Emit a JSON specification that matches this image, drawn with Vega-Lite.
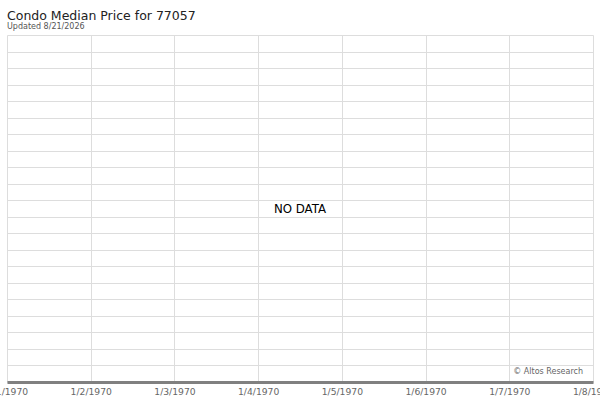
{
  "$schema": "https://vega.github.io/schema/vega-lite/v6.json",
  "autosize": "none",
  "width": 586,
  "height": 347,
  "padding": {"left": 7, "top": 35, "right": 7, "bottom": 18},
  "background": "white",
  "title": {
    "text": "Condo Median Price for 77057",
    "subtitle": "Updated 8/21/2026",
    "anchor": "start",
    "frame": "group",
    "font": "DejaVu Sans",
    "fontSize": 12.5,
    "fontWeight": "normal",
    "color": "#222222",
    "subtitleFont": "DejaVu Sans",
    "subtitleFontSize": 8,
    "subtitleColor": "#555555",
    "subtitlePadding": 0,
    "offset": 4.5
  },
  "config": {
    "view": {"stroke": null},
    "font": "DejaVu Sans"
  },
  "datasets": {
    "notes": [
      {"date": "1970-01-04T12:00:00", "value": 10.5, "label": "NO DATA", "kind": "center"},
      {"date": "1970-01-08T00:00:00", "value": 0, "label": "© Altos Research", "kind": "credit"}
    ]
  },
  "data": {"name": "notes"},
  "encoding": {
    "x": {
      "field": "date",
      "type": "temporal",
      "scale": {"domain": [{"year": 1970, "month": 1, "date": 1}, {"year": 1970, "month": 1, "date": 8}]},
      "axis": {
        "title": null,
        "format": "%-m/%-d/%Y",
        "tickCount": {"interval": "day", "step": 1},
        "grid": true,
        "gridColor": "#dddddd",
        "gridWidth": 1,
        "ticks": false,
        "domain": true,
        "domainColor": "#808080",
        "domainWidth": 3,
        "labelColor": "#666666",
        "labelFontSize": 9.2,
        "labelPadding": 5.5,
        "labelFlush": false,
        "labelOverlap": false,
        "labelBound": false
      }
    },
    "y": {
      "field": "value",
      "type": "quantitative",
      "scale": {"domain": [0, 21], "nice": false, "zero": true},
      "axis": {
        "title": null,
        "values": [0, 1, 2, 3, 4, 5, 6, 7, 8, 9, 10, 11, 12, 13, 14, 15, 16, 17, 18, 19, 20, 21],
        "labels": false,
        "ticks": false,
        "domain": false,
        "grid": true,
        "gridColor": "#dddddd",
        "gridWidth": 1
      }
    }
  },
  "layer": [
    {
      "transform": [{"filter": "datum.kind === 'center'"}],
      "mark": {"type": "text", "font": "DejaVu Sans", "fontSize": 11.8, "color": "#000000", "align": "center", "baseline": "middle"},
      "encoding": {"text": {"field": "label"}}
    },
    {
      "transform": [{"filter": "datum.kind === 'credit'"}],
      "mark": {"type": "text", "font": "DejaVu Sans", "fontSize": 8, "color": "#666666", "align": "right", "baseline": "middle", "dx": -10, "dy": -10},
      "encoding": {"text": {"field": "label"}}
    }
  ]
}
